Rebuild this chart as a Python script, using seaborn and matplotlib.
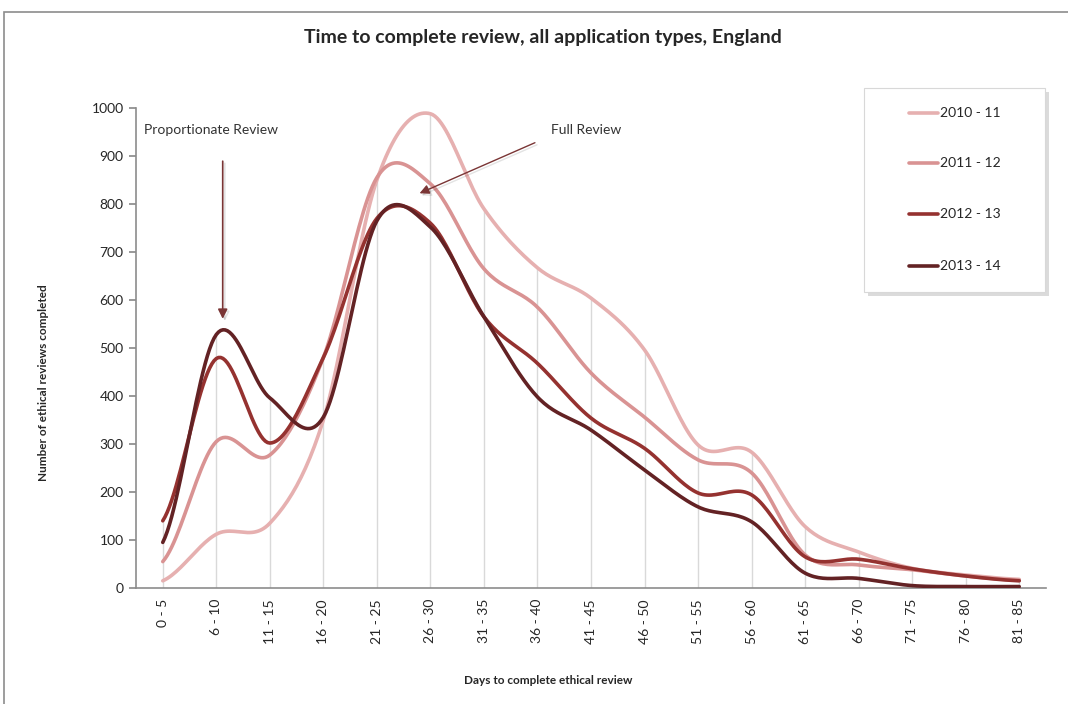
import numpy as np
import pandas as pd
import matplotlib
matplotlib.use("Agg")
import matplotlib.pyplot as plt
import matplotlib.patheffects as pe
from matplotlib.patches import Rectangle
import seaborn as sns

# Day bands (x categories)
categories = ["0 - 5", "6 - 10", "11 - 15", "16 - 20", "21 - 25", "26 - 30",
              "31 - 35", "36 - 40", "41 - 45", "46 - 50", "51 - 55", "56 - 60",
              "61 - 65", "66 - 70", "71 - 75", "76 - 80", "81 - 85"]

# Number of ethical reviews completed per band, by year
y2010_11 = [15, 112, 135, 350, 850, 988, 790, 667, 604, 496, 298, 283, 128, 75, 41, 27, 18]
y2011_12 = [55, 305, 277, 480, 855, 842, 665, 585, 448, 356, 267, 240, 69, 48, 38, 25, 16]
y2012_13 = [140, 478, 302, 480, 770, 760, 565, 468, 354, 291, 198, 194, 65, 60, 40, 25, 15]
y2013_14 = [95, 528, 396, 356, 765, 752, 565, 398, 329, 246, 169, 138, 31, 20, 5, 3, 3]

series_names = ["2010 - 11", "2011 - 12", "2012 - 13", "2013 - 14"]
series_values = [y2010_11, y2011_12, y2012_13, y2013_14]
colors = ["#e6b0b0", "#d99393", "#953230", "#632224"]

y_ticks = list(range(0, 1001, 100))


def smooth(values, steps=24):
    """Catmull-Rom curve through the points, like a smoothed line chart."""
    v = np.asarray(values, dtype=float)
    n = len(v)
    xs, ys = [], []
    for i in range(n - 1):
        p0 = v[i - 1] if i > 0 else v[i]
        p1, p2 = v[i], v[i + 1]
        p3 = v[i + 2] if i + 2 < n else v[i + 1]
        m1 = (p2 - p0) / 2.0
        m2 = (p3 - p1) / 2.0
        t = np.linspace(0, 1, steps, endpoint=False)
        h00 = 2 * t**3 - 3 * t**2 + 1
        h10 = t**3 - 2 * t**2 + t
        h01 = -2 * t**3 + 3 * t**2
        h11 = t**3 - t**2
        xs.extend(i + t)
        ys.extend(h00 * p1 + h10 * m1 + h01 * p2 + h11 * m2)
    xs.append(n - 1)
    ys.append(v[-1])
    return np.array(xs), np.array(ys)


frames = []
for name, vals in zip(series_names, series_values):
    sx, sy = smooth(vals)
    frames.append(pd.DataFrame({"pos": sx, "count": sy, "year": name}))
df = pd.concat(frames, ignore_index=True)

sns.set_theme(style="white")
plt.rcParams["font.family"] = ["Lato", "DejaVu Sans"]

fig = plt.figure(figsize=(10.68, 7.04), dpi=100)
ax = fig.add_axes([136 / 1068, 1 - 588 / 704, (1046 - 136) / 1068, (588 - 108) / 704])

# Outer chart frame
fig.patches.append(Rectangle((4 / 1068, -0.1), 1.2, 1 - 12 / 704 + 0.1,
                             transform=fig.transFigure, fill=False,
                             edgecolor="#8c8c8c", linewidth=1.2))

# Drop lines from the highest series down to the axis
n = len(categories)
pos = np.arange(n)
tops = np.max(np.array(series_values), axis=0)
ax.vlines(pos, 0, tops, color="#d9d9d9", linewidth=1.0, zorder=1)

sns.lineplot(data=df, x="pos", y="count", hue="year", palette=colors,
             hue_order=series_names, linewidth=2.6, sort=False,
             estimator=None, legend=False, ax=ax, zorder=3)

ax.set_xlim(-0.5, n - 0.5)
ax.set_ylim(0, 1000)
ax.set_yticks(y_ticks)
ax.set_yticklabels([str(t) for t in y_ticks], fontsize=10)
ax.set_xticks(pos)
ax.set_xticklabels(categories, rotation=90, fontsize=10, va="top", ha="center")
ax.set_xticks(np.arange(-0.5, n, 1.0), minor=True)
ax.tick_params(axis="x", which="major", length=0, pad=8)
ax.tick_params(axis="x", which="minor", length=5, color="#8c8c8c", direction="out")
ax.tick_params(axis="y", length=5, color="#8c8c8c", direction="out", pad=4, left=True)
ax.set_xlabel("")
ax.set_ylabel("")
for s in ["top", "right"]:
    ax.spines[s].set_visible(False)
for s in ["left", "bottom"]:
    ax.spines[s].set_color("#8c8c8c")
    ax.spines[s].set_linewidth(1.2)

fig.text(543 / 1068, 1 - 37 / 704, "Time to complete review, all application types, England",
         ha="center", va="center", fontsize=14, fontweight="bold")
fig.text(44 / 1068, 1 - 383 / 704, "Number of ethical reviews completed",
         rotation=90, ha="center", va="center", fontsize=8.5, fontweight="bold")
fig.text(548 / 1068, 1 - 680 / 704, "Days to complete ethical review",
         ha="center", va="center", fontsize=8.5, fontweight="bold")

# Annotations
arrow_col = "#7a3535"
shadow = [pe.SimpleLineShadow(offset=(1.5, -1.5), alpha=0.12), pe.Normal()]
ax.annotate("", xy=(1.12, 555), xytext=(1.12, 895),
            arrowprops=dict(arrowstyle="-|>", color=arrow_col, lw=1.2,
                            mutation_scale=14, path_effects=shadow))
ax.text(-0.35, 955, "Proportionate Review", fontsize=10, color="#333333",
        ha="left", va="center")
ax.annotate("", xy=(4.75, 820), xytext=(7.0, 930),
            arrowprops=dict(arrowstyle="-|>", color=arrow_col, lw=1.0,
                            mutation_scale=14, path_effects=shadow))
ax.text(7.25, 955, "Full Review", fontsize=10, color="#333333",
        ha="left", va="center")

# Legend box with shadow
lx0, ly0, lx1, ly1 = 864 / 1068, 1 - 292 / 704, 1045 / 1068, 1 - 88 / 704
fig.patches.append(Rectangle((lx0 + 0.004, ly0 - 0.006), lx1 - lx0, ly1 - ly0,
                             transform=fig.transFigure, facecolor="#b0b0b0",
                             edgecolor="none", alpha=0.45, zorder=5))
fig.patches.append(Rectangle((lx0, ly0), lx1 - lx0, ly1 - ly0,
                             transform=fig.transFigure, facecolor="white",
                             edgecolor="#d8d8d8", linewidth=0.8, zorder=6))
entry_y = [113, 163, 214, 266]
for name, col, yy in zip(series_names, colors, entry_y):
    fy = 1 - yy / 704
    fig.add_artist(plt.Line2D([909 / 1068, 938 / 1068], [fy, fy], color=col,
                              linewidth=2.6, transform=fig.transFigure, zorder=7))
    fig.text(940 / 1068, fy, name, fontsize=10, va="center", ha="left", zorder=7)

fig.savefig("out.png", dpi=100)
